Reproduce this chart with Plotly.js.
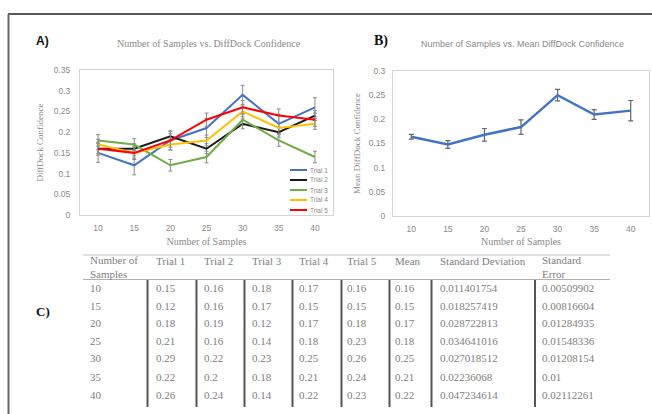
<!DOCTYPE html>
<html>
<head>
<meta charset="utf-8">
<script src="https://cdn.plot.ly/plotly-3.0.1.min.js"></script>
<style>html,body{margin:0;padding:0;background:#fff;}#chart{width:652px;height:414px;}</style>
</head>
<body>
<div id="chart"></div>
<script>
// ---------------- data ----------------
const samples = [10, 15, 20, 25, 30, 35, 40];
const trialNames = ['Trial 1', 'Trial 2', 'Trial 3', 'Trial 4', 'Trial 5'];
const trial1 = [0.15, 0.12, 0.18, 0.21, 0.29, 0.22, 0.26];
const trial2 = [0.16, 0.16, 0.19, 0.16, 0.22, 0.2, 0.24];
const trial3 = [0.18, 0.17, 0.12, 0.14, 0.23, 0.18, 0.14];
const trial4 = [0.17, 0.15, 0.17, 0.18, 0.25, 0.21, 0.22];
const trial5 = [0.16, 0.15, 0.18, 0.23, 0.26, 0.24, 0.23];
const trialErr = [0.023, 0.012, 0.014, 0.013, 0.016];
const meanPlot = [0.164, 0.148, 0.168, 0.184, 0.25, 0.21, 0.218];
const meanErr = [0.005, 0.008, 0.013, 0.015, 0.012, 0.01, 0.021];
const tableMean = ['0.16', '0.15', '0.17', '0.18', '0.25', '0.21', '0.22'];
const tableSD = ['0.011401754', '0.018257419', '0.028722813', '0.034641016', '0.027018512', '0.02236068', '0.047234614'];
const tableSE = ['0.00509902', '0.00816604', '0.01284935', '0.01548336', '0.01208154', '0.01', '0.02112261'];
const tableHeaders = ['Number of<br>Samples', 'Trial 1', 'Trial 2', 'Trial 3', 'Trial 4', 'Trial 5', 'Mean', 'Standard Deviation', 'Standard<br>Error'];
const yTicksA = [0, 0.05, 0.1, 0.15, 0.2, 0.25, 0.3, 0.35];
const yTicksB = [0, 0.05, 0.1, 0.15, 0.2, 0.25, 0.3];

// ---------------- styling ----------------
const W = 652, H = 414;
const px = x => x / W;
const py = y => 1 - y / H;
const trials = [trial1, trial2, trial3, trial4, trial5];
const colors = ['#4472C4', '#1a1a1a', '#70AD47', '#FFC000', '#FF0000'];
const serif = 'Liberation Serif, DejaVu Serif, serif';
const sans = 'Liberation Sans, Arial, sans-serif';
const grey = '#8a8a8a';

const traces = [];
trials.forEach((vals, i) => {
  traces.push({
    x: samples, y: vals, type: 'scatter', mode: 'lines', name: trialNames[i],
    line: {color: colors[i], width: 2},
    error_y: {type: 'constant', value: trialErr[i], color: '#8c8c8c', thickness: 1, width: 2},
    xaxis: 'x', yaxis: 'y', showlegend: false, hoverinfo: 'skip'
  });
});
traces.push({
  x: samples, y: meanPlot, type: 'scatter', mode: 'lines', name: 'Mean',
  line: {color: '#4472C4', width: 2.5},
  error_y: {type: 'data', array: meanErr, color: '#666666', thickness: 1.2, width: 2.5},
  xaxis: 'x2', yaxis: 'y2', showlegend: false, hoverinfo: 'skip'
});

const tickFont = {family: sans, size: 8.5, color: grey};
const axisTitleFont = {family: serif, size: 10, color: grey};

const xCommon = {
  range: [7.5, 42.5], tickvals: samples, ticktext: samples.map(String), ticks: '',
  showgrid: false, zeroline: false, showline: true, mirror: true, linecolor: '#d4d4d4', linewidth: 1,
  tickfont: tickFont, ticklabelstandoff: 5, fixedrange: true
};
const yCommon = {
  ticks: '', showgrid: false, zeroline: false, showline: true, mirror: true, linecolor: '#d4d4d4', linewidth: 1,
  tickfont: tickFont, fixedrange: true
};

const annotations = [];
const shapes = [];

// Panel labels and titles
annotations.push({x: px(34), y: py(41), xref: 'paper', yref: 'paper', xanchor: 'left', yanchor: 'middle', showarrow: false,
  text: '<b>A)</b>', font: {family: sans, size: 12, color: '#111'}});
annotations.push({x: px(372), y: py(41), xref: 'paper', yref: 'paper', xanchor: 'left', yanchor: 'middle', showarrow: false,
  text: '<b>B)</b>', font: {family: serif, size: 14, color: '#111'}});
annotations.push({x: px(34), y: py(311), xref: 'paper', yref: 'paper', xanchor: 'left', yanchor: 'middle', showarrow: false,
  text: '<b>C)</b>', font: {family: serif, size: 13, color: '#111'}});
annotations.push({x: px(209), y: py(43), xref: 'paper', yref: 'paper', xanchor: 'center', yanchor: 'middle', showarrow: false,
  text: 'Number of Samples vs. DiffDock Confidence', font: {family: serif, size: 10, color: grey}});
annotations.push({x: px(522), y: py(44), xref: 'paper', yref: 'paper', xanchor: 'center', yanchor: 'middle', showarrow: false,
  text: 'Number of Samples vs. Mean DiffDock Confidence', font: {family: sans, size: 9, color: grey}});

// Manual legend for panel A
trialNames.forEach((nm, i) => {
  const yy = 170 + 10 * i;
  shapes.push({type: 'line', xref: 'paper', yref: 'paper', x0: px(290), x1: px(307), y0: py(yy), y1: py(yy),
    line: {color: colors[i], width: 2}});
  annotations.push({x: px(308), y: py(yy), xref: 'paper', yref: 'paper', xanchor: 'left', yanchor: 'middle', showarrow: false,
    text: nm, font: {family: sans, size: 6.5, color: grey}});
});

// Outer frame
shapes.push({type: 'line', xref: 'paper', yref: 'paper', x0: px(8), x1: 1, y0: py(14), y1: py(14), line: {color: '#222', width: 1.5}});
shapes.push({type: 'line', xref: 'paper', yref: 'paper', x0: px(8.5), x1: px(8.5), y0: py(14), y1: 0, line: {color: '#666', width: 2}});

// Table C
const colX = [90, 156, 204, 252, 299, 347, 395, 440, 542];
const sepX = [147.5, 196.5, 244.5, 292.5, 341.5, 389.5, 431.5, 535];
const rowY = [288, 306, 323, 341, 358, 377, 395];
const tFont = {family: serif, size: 11, color: '#808080'};
shapes.push({type: 'line', xref: 'paper', yref: 'paper', x0: px(83), x1: px(610), y0: py(255), y1: py(255), line: {color: '#c0c0c0', width: 1}});
shapes.push({type: 'line', xref: 'paper', yref: 'paper', x0: px(83), x1: px(610), y0: py(279.5), y1: py(279.5), line: {color: '#b0b0b0', width: 1}});
sepX.forEach(sx => {
  shapes.push({type: 'line', xref: 'paper', yref: 'paper', x0: px(sx), x1: px(sx), y0: py(280), y1: py(407), line: {color: '#555', width: 2}});
});
tableHeaders.forEach((h, c) => {
  const twoLine = h.indexOf('<br>') >= 0;
  annotations.push({x: px(colX[c] - 2), y: py(twoLine ? 266.5 : 261), xref: 'paper', yref: 'paper', xanchor: 'left', yanchor: 'middle',
    align: 'left', showarrow: false, text: h, font: tFont});
});
const tableCols = [samples.map(String)].concat(trials.map(t => t.map(String))).concat([tableMean, tableSD, tableSE]);
tableCols.forEach((col, c) => {
  col.forEach((v, r) => {
    annotations.push({x: px(colX[c] - 2), y: py(rowY[r]), xref: 'paper', yref: 'paper', xanchor: 'left', yanchor: 'middle',
      showarrow: false, text: v, font: tFont});
  });
});

const layout = {
  width: W, height: H, margin: {l: 0, r: 0, t: 0, b: 0},
  paper_bgcolor: '#fff', plot_bgcolor: '#fff', showlegend: false,
  xaxis: Object.assign({}, xCommon, {domain: [px(80), px(333)], anchor: 'y',
    title: {text: 'Number of Samples', font: axisTitleFont, standoff: 5}}),
  yaxis: Object.assign({}, yCommon, {domain: [py(215), py(70)], anchor: 'x', range: [0, 0.35], tickvals: yTicksA,
    ticklabelstandoff: 7, title: {text: 'DiffDock Confidence', font: {family: serif, size: 9, color: grey}, standoff: 8}}),
  xaxis2: Object.assign({}, xCommon, {domain: [px(393), px(649)], anchor: 'y2',
    title: {text: 'Number of Samples', font: axisTitleFont, standoff: 4}}),
  yaxis2: Object.assign({}, yCommon, {domain: [py(216), py(71)], anchor: 'x2', range: [0, 0.3], tickvals: yTicksB,
    ticklabelstandoff: 5, title: {text: 'Mean DiffDock Confidence', font: {family: serif, size: 9, color: grey}, standoff: 6}}),
  annotations: annotations,
  shapes: shapes
};

Plotly.newPlot('chart', traces, layout, {staticPlot: true, displayModeBar: false});
</script>
</body>
</html>
